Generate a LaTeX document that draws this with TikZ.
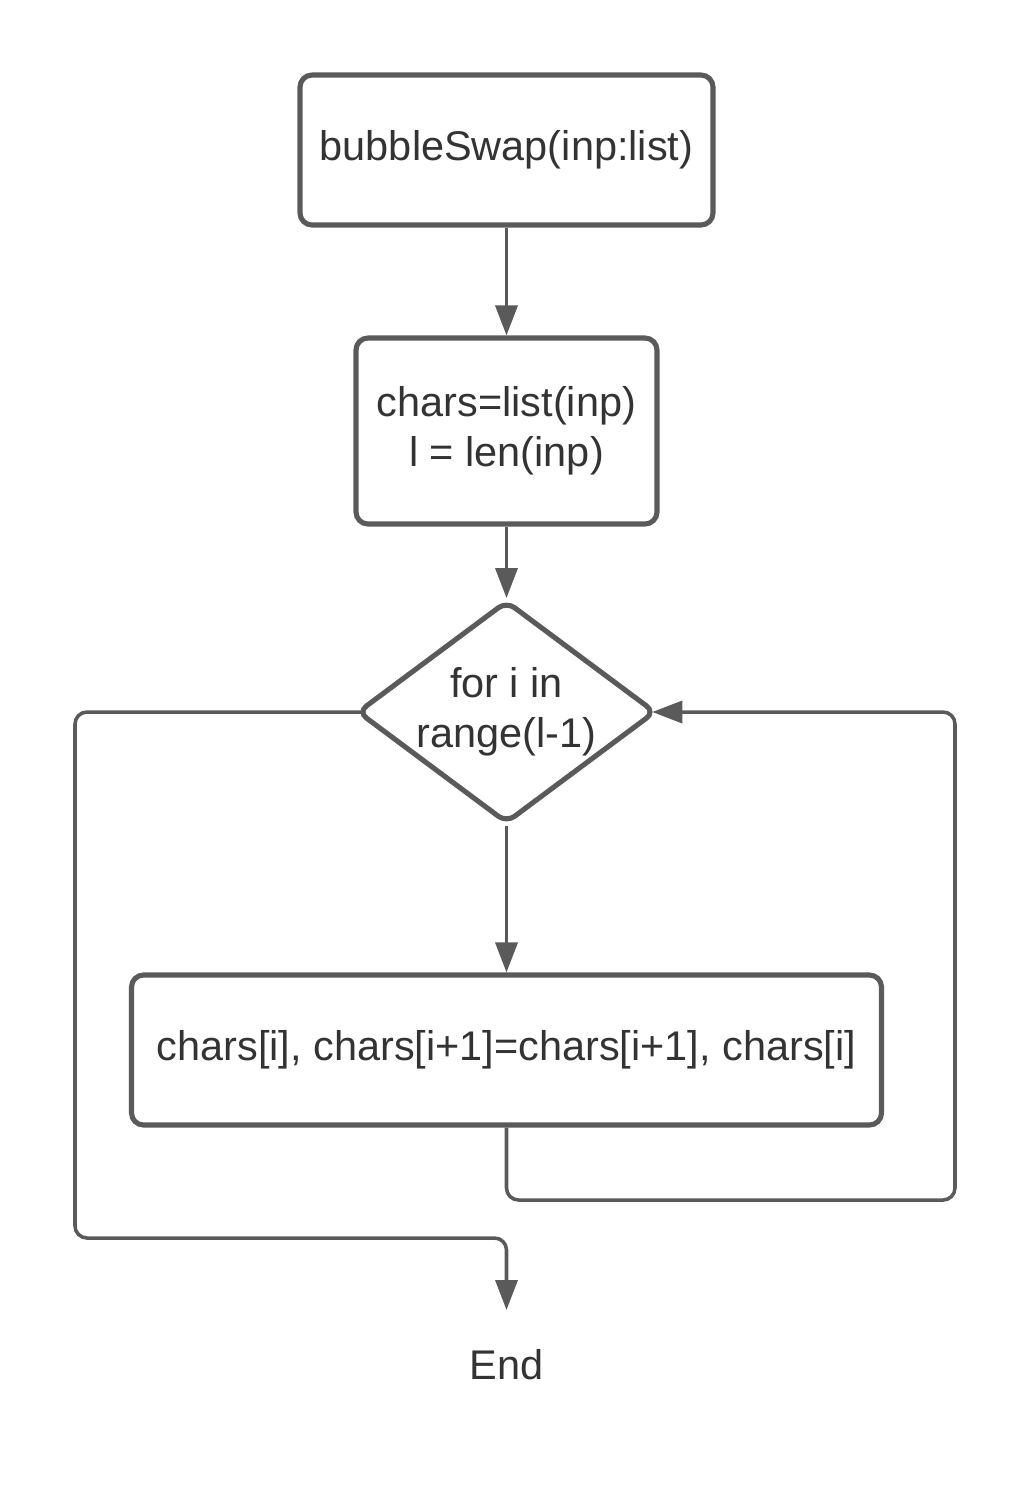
\documentclass[tikz,border=0pt]{standalone}
\usepackage{fontspec}
\setmainfont{Liberation Sans}
\usepackage{tikz}
\usetikzlibrary{positioning,shapes.geometric,arrows.meta}

\definecolor{lineGray}{HTML}{5A5A5A}
\definecolor{textGray}{HTML}{333333}

\begin{document}
\begin{tikzpicture}
        \tikzstyle{blk}=[rectangle, draw=lineGray, line width=1.45pt, rounded corners=0.12cm, text=textGray, align=center, inner sep=0pt]
        \tikzstyle{dec}=[diamond, draw=lineGray, line width=1.45pt, rounded corners=0.1cm, text=textGray, align=center, inner sep=0pt, aspect=1.34, minimum width=2.94cm, minimum height=2.19cm]
        \tikzstyle{conn}=[draw=lineGray, line width=1pt, rounded corners=0.12cm]
        \tikzstyle{arr}=[conn, -{Triangle[length=0.3cm,width=0.22cm]}]

        \useasboundingbox (0,0) rectangle (10.31,-15);
        \fontsize{11.8}{14.2}\selectfont

        \node[blk, minimum width=4.13cm, minimum height=1.5cm]  (start) at (5.065,-1.5)  {bubbleSwap(inp:list)};
        \node[blk, minimum width=3.01cm, minimum height=1.86cm] (init)  at (5.065,-4.31) {chars=list(inp)\\l = len(inp)};
        \node[dec]                                             (loop)  at (5.065,-7.12) {for i in\\range(l-1)};
        \node[blk, minimum width=7.5cm, minimum height=1.5cm]  (swap)  at (5.065,-10.5) {chars[i], chars[i+1]=chars[i+1], chars[i]};
        \node[text=textGray, inner sep=0pt]                    (stop)  at (5.065,-13.65) {End};

        \coordinate (backR) at (9.55,-12.0);
        \coordinate (exitL) at (0.75,-12.38);
        \coordinate (stopIn) at (5.065,-13.1);

        \draw[arr] (start) -- (init);
        \draw[arr] (init) -- (loop);
        \draw[arr] (loop) -- (swap);
        \draw[arr, shorten >=-0.06cm] (swap.south) |- (backR) |- (loop.east);
        \draw[arr, shorten <=-0.07cm] (loop.west) -| (exitL) -| (stopIn);
    \end{tikzpicture}
\end{document}
